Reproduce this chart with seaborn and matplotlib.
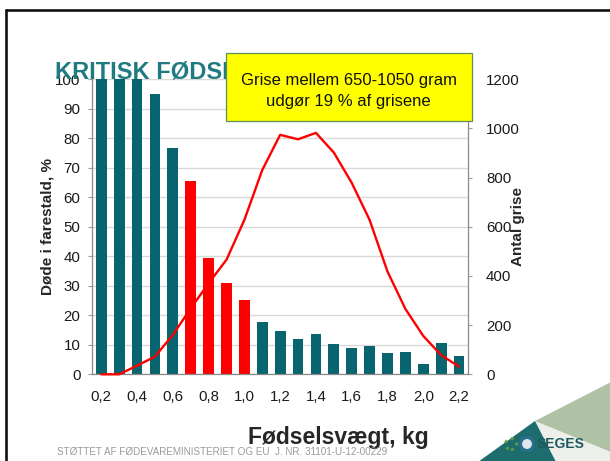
import numpy as np
import pandas as pd
import matplotlib
matplotlib.use("Agg")
import matplotlib.pyplot as plt
import seaborn as sns
from matplotlib.patches import Rectangle, Polygon, Ellipse
from matplotlib.lines import Line2D

# ---------------- data ----------------
weights = ['0,2', '0,3', '0,4', '0,5', '0,6', '0,7', '0,8', '0,9', '1,0', '1,1', '1,2',
           '1,3', '1,4', '1,5', '1,6', '1,7', '1,8', '1,9', '2,0', '2,1', '2,2']
died_pct = [100, 100, 100, 95.1, 76.8, 65.5, 39.4, 31.1, 25.2, 17.6, 14.7,
            11.9, 13.6, 10.2, 9.0, 9.7, 7.2, 7.7, 3.6, 10.7, 6.2]
n_pigs = [0, 0, 35, 72, 160, 268, 370, 466, 628, 831, 974,
          956, 982, 902, 779, 628, 418, 266, 156, 78, 31]
highlight = ['0,7', '0,8', '0,9', '1,0']
xtick_labels = ['0,2', '', '0,4', '', '0,6', '', '0,8', '', '1,0', '', '1,2',
                '', '1,4', '', '1,6', '', '1,8', '', '2,0', '', '2,2']
left_ticks = list(range(0, 101, 10))
right_ticks = list(range(0, 1201, 200))

TEAL = '#08646F'
RED = '#FF0000'

sns.set_style("white")
plt.rcParams['font.family'] = ['Liberation Sans', 'DejaVu Sans']

W, H = 610, 461
fig = plt.figure(figsize=(W / 100, H / 100), dpi=100)

def fx(px):
    return px / W

def fy(py):
    return 1 - py / H

ax = fig.add_axes([fx(92.3), fy(374.3), fx(468.0) - fx(92.3), fy(79.3) - fy(374.3)])

df = pd.DataFrame({'w': weights, 'd': died_pct, 'n': n_pigs})
palette = {w: (RED if w in highlight else TEAL) for w in weights}
sns.barplot(data=df, x='w', y='d', hue='w', palette=palette, legend=False,
            width=0.6, saturation=1, ax=ax, edgecolor='none')

ax.set_xlim(-0.5, len(weights) - 0.5)
ax.set_ylim(0, 100)
ax.set_yticks(left_ticks)
ax.set_xticks(range(len(weights)))
ax.set_xticklabels(xtick_labels)
ax.set_xticks(np.arange(-0.5, len(weights), 1), minor=True)
ax.tick_params(axis='x', which='major', length=0, pad=11, labelsize=10.8, labelcolor='#1a1a1a')
ax.tick_params(axis='x', which='minor', length=4, color='#9a9a9a', width=0.8, direction='out')
ax.tick_params(axis='y', length=3, color='#9a9a9a', width=0.8, pad=5.5, labelsize=10.8,
               labelcolor='#1a1a1a', left=True)
ax.yaxis.grid(True, color='#D9D9D9', lw=1)
ax.set_axisbelow(True)
for s in ['top', 'right']:
    ax.spines[s].set_visible(False)
for s in ['left', 'bottom']:
    ax.spines[s].set_color('#8a8a8a')
    ax.spines[s].set_linewidth(0.9)

ax.set_ylabel('Døde i farestald, %', fontsize=11, fontweight='bold', va='center')
ax.yaxis.set_label_coords((47.5 - 92.3) / 375.7, 0.5)
ax.set_xlabel('Fødselsvægt, kg', fontsize=16.5, fontweight='bold', va='center')
ax.xaxis.set_label_coords((338.5 - 92.3) / 375.7, (374.3 - 437) / 295)

ax2 = ax.twinx()
sns.lineplot(x=np.arange(len(weights)), y=n_pigs, ax=ax2, color=RED, lw=1.7)
for ln in ax2.lines:
    ln.set_clip_on(False)
ax2.set_ylim(0, 1200)
ax2.set_xlim(-0.5, len(weights) - 0.5)
ax2.set_yticks(right_ticks)
ax2.grid(False)
ax2.tick_params(axis='y', length=3, color='#9a9a9a', width=0.8, pad=10, labelsize=10.8,
                labelcolor='#1a1a1a', right=True)
for s in ['top', 'left', 'bottom']:
    ax2.spines[s].set_visible(False)
ax2.spines['right'].set_color('#8a8a8a')
ax2.spines['right'].set_linewidth(0.9)
ax2.set_ylabel('Antal grise', fontsize=11, fontweight='bold', rotation=90, va='center')
ax2.yaxis.set_label_coords((518 - 92.3) / 375.7, 0.5)

# ---------------- slide decorations ----------------
fig.text(fx(55), fy(72), 'KRITISK FØDSELSVÆGT', fontsize=17, fontweight='bold',
         color='#1F7A82', ha='left', va='center', zorder=1)

fig.patches.append(Rectangle((fx(226), fy(120.7)), fx(471.7) - fx(226), fy(53) - fy(120.7),
                             transform=fig.transFigure, facecolor='#FFFF00',
                             edgecolor='#5E8F5A', lw=0.9, zorder=2))
fig.text(fx(348.8), fy(80.7), 'Grise mellem 650-1050 gram', fontsize=12, ha='center',
         va='center', zorder=3, color='#111111')
fig.text(fx(348.8), fy(101.7), 'udgør 19 % af grisene', fontsize=12, ha='center',
         va='center', zorder=3, color='#111111')

fig.text(fx(57), fy(452), 'STØTTET AF FØDEVAREMINISTERIET OG EU  J. NR. 31101-U-12-00229',
         fontsize=7.1, color='#9a9a9a', ha='left', va='center')

# border
fig.lines.append(Line2D([fx(6), 1.01], [fy(10), fy(10)], transform=fig.transFigure,
                        color='#111111', lw=1.9))
fig.lines.append(Line2D([fx(6), fx(6)], [fy(10), -0.01], transform=fig.transFigure,
                        color='#111111', lw=1.9))

# logo
fig.patches.append(Polygon([(fx(535), fy(421)), (fx(611), fy(452)), (fx(611), fy(462)),
                            (fx(556), fy(462))], closed=True, transform=fig.transFigure,
                           facecolor='#EDEFEA', edgecolor='none', zorder=1))
fig.patches.append(Polygon([(fx(535), fy(421)), (fx(611), fy(382)), (fx(611), fy(452))],
                           closed=True, transform=fig.transFigure,
                           facecolor='#AFC2A6', edgecolor='none', zorder=1))
fig.patches.append(Polygon([(fx(478), fy(462)), (fx(535), fy(421)), (fx(556), fy(462))],
                           closed=True, transform=fig.transFigure,
                           facecolor='#1E6D6E', edgecolor='none', zorder=1))
fig.patches.append(Ellipse((fx(511), fy(444)), 11 / W, 11 / H, transform=fig.transFigure,
                           facecolor='none', edgecolor='#5FA040', lw=2, ls=':', zorder=2))
fig.patches.append(Ellipse((fx(527), fy(444)), 13 / W, 13 / H, transform=fig.transFigure,
                           facecolor='#DCE8EE', edgecolor='#2A6E8E', lw=2.2, zorder=2))
fig.text(fx(537), fy(444), 'SEGES', fontsize=10, fontweight='bold', color='#1D5A5E',
         ha='left', va='center', zorder=3)

fig.savefig('out.png', dpi=100)
